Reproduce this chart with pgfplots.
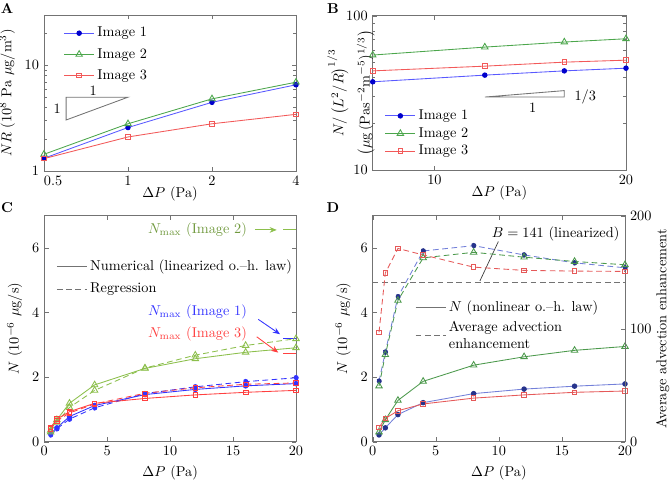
\documentclass[border=0pt]{standalone}
\usepackage{pgfplots}
\pgfplotsset{compat=1.18}
\usetikzlibrary{arrows.meta}

\definecolor{bA}{rgb}{0.35,0.35,1}
\definecolor{bM}{rgb}{0,0,0.8}
\definecolor{gA}{rgb}{0.3,0.65,0.3}
\definecolor{rA}{rgb}{0.95,0.35,0.35}
\definecolor{bC}{rgb}{0.2,0.2,1}
\definecolor{gC}{rgb}{0.55,0.75,0.3}
\definecolor{rC}{rgb}{1,0.25,0.25}
\definecolor{bD}{rgb}{0.45,0.5,0.85}
\definecolor{bDm}{rgb}{0.15,0.2,0.55}
\definecolor{gD}{rgb}{0.3,0.6,0.3}
\definecolor{rD}{rgb}{0.9,0.35,0.35}
\definecolor{frame}{rgb}{0.45,0.45,0.45}

\pgfplotsset{
  panel/.style={
    scale only axis, anchor=south west,
    axis line style={frame}, tick style={frame},
    tick align=inside, major tick length=3pt, minor tick length=1.8pt,
    legend cell align=left,
    legend style={draw=none, fill=none, row sep=1pt},
    legend image code/.code={\draw[mark repeat=2,mark phase=2,##1] plot coordinates {(0cm,0cm) (0.37cm,0cm) (0.74cm,0cm)};},
    every axis plot/.append style={line width=0.6pt},
  },
  dsh/.style={dash pattern=on 4pt off 2.5pt},
  i1/.style={mark=*, mark size=1.6pt},
  i2/.style={mark=triangle, mark size=2.6pt, mark options={solid}},
  i3/.style={mark=square, mark size=1.6pt, mark options={solid}},
}

\begin{document}
\begin{tikzpicture}
\useasboundingbox (0,0) rectangle (469.7pt,337.4pt);

\node[font=\bfseries] at (4.9pt,331.1pt) {A};
\node[font=\bfseries] at (233.1pt,331.1pt) {B};
\node[font=\bfseries] at (4.9pt,191.8pt) {C};
\node[font=\bfseries] at (233.1pt,191.8pt) {D};

% ---------------- A
\begin{axis}[panel, at={(30.8pt,217.7pt)}, width=176.4pt, height=109.2pt,
  xmode=log, ymode=log, xmin=0.5, xmax=4, ymin=1, ymax=30,
  xtick={0.5,1,2,4}, xticklabels={\makebox[0pt][l]{0.5},1,2,4},
  ytick={1,10}, yticklabels={1,10},
  minor ytick={2,3,4,5,6,7,8,9,20,30},
  xlabel={$\Delta P$ (Pa)}, xlabel style={yshift=6pt},
  ylabel={$NR$ ($10^8$ Pa $\mu$g/m$^3$)},
  legend style={at={(axis description cs:0.06,0.96)}, anchor=north west, row sep=2.5pt},
]
\addplot[bA, i1, mark options={fill=bM, draw=bM}] coordinates {(0.5,1.32)(1,2.58)(2,4.47)(4,6.55)};
\addlegendentry{Image 1}
\addplot[gA, i2] coordinates {(0.5,1.44)(1,2.8)(2,4.82)(4,6.93)};
\addlegendentry{Image 2}
\addplot[rA, i3] coordinates {(0.5,1.31)(1,2.1)(2,2.8)(4,3.44)};
\addlegendentry{Image 3}
\draw[frame, line width=0.6pt] (axis cs:0.6,5) -- (axis cs:0.6,3.04) -- (axis cs:1,5) -- cycle;
\node at (axis cs:0.75,5.8) {1};
\node at (axis cs:0.557,3.9) {1};
\end{axis}

% ---------------- B
\begin{axis}[panel, at={(260.9pt,218.4pt)}, width=177.3pt, height=108pt,
  xmode=log, ymode=log, xmin=8, xmax=20, ymin=10, ymax=100,
  xtick={10,20}, xticklabels={10,20},
  ytick={10,100}, yticklabels={10,100},
  minor ytick={20,30,40,50,60,70,80,90},
  xlabel={$\Delta P$ (Pa)}, xlabel style={yshift=6pt},
  ylabel={$N/\left(L^2/R\right)^{1/3}$\\[5pt]$\left(\mu\mathrm{g}\,(\mathrm{Pa s^{-2}m^{-5}})^{1/3}\right)$},
  ylabel style={align=center, at={(axis description cs:-0.086,0.5)}, anchor=center},
  legend style={at={(axis description cs:0.03,0.045)}, anchor=south west, row sep=0pt},
]
\addplot[bA, i1, mark options={fill=bM, draw=bM}] coordinates {(8,37.3)(12,41.2)(16,43.9)(20,45.7)};
\addlegendentry{Image 1}
\addplot[gA, i2] coordinates {(8,55.6)(12,62.6)(16,67.5)(20,70.9)};
\addlegendentry{Image 2}
\addplot[rA, i3] coordinates {(8,43.9)(12,47.1)(16,50.0)(20,51.5)};
\addlegendentry{Image 3}
\draw[frame, line width=0.6pt] (axis cs:12,29.7) -- (axis cs:16,29.7) -- (axis cs:16,32.7) -- cycle;
\node[anchor=west] at (axis cs:16.3,29.9) {$1/3$};
\node at (axis cs:14.27,25.3) {1};
\end{axis}

% ---------------- C
\begin{axis}[panel, at={(31pt,28.2pt)}, width=176.2pt, height=158.2pt,
  xmin=0, xmax=20, ymin=0, ymax=7,
  xtick={0,5,10,15,20}, ytick={0,2,4,6},
  xlabel={$\Delta P$ (Pa)},
  ylabel={$N$ ($10^{-6}$ $\mu$g/s)},
  legend style={at={(axis description cs:0.03,0.83)}, anchor=north west, row sep=3pt},
]
\addlegendimage{frame}
\addlegendentry{Numerical (linearized o.--h. law)}
\addlegendimage{frame, dsh}
\addlegendentry{Regression}
\addplot[bC, i1, mark options={fill=bC}, forget plot] coordinates {(0.5,0.25)(1,0.43)(2,0.78)(4,1.12)(8,1.46)(12,1.62)(16,1.73)(20,1.8)};
\addplot[bC, dsh, i1, mark options={fill=bC}, forget plot] coordinates {(0.5,0.21)(1,0.40)(2,0.70)(4,1.05)(8,1.49)(12,1.70)(16,1.86)(20,1.98)};
\addplot[gC, i2, forget plot] coordinates {(0.5,0.35)(1,0.68)(2,1.19)(4,1.76)(8,2.27)(12,2.57)(16,2.77)(20,2.91)};
\addplot[gC, dsh, i2, forget plot] coordinates {(0.5,0.3)(1,0.6)(2,1.06)(4,1.59)(8,2.28)(12,2.68)(16,2.98)(20,3.19)};
\addplot[rC, i3, forget plot] coordinates {(0.5,0.44)(1,0.70)(2,0.93)(4,1.19)(8,1.34)(12,1.45)(16,1.53)(20,1.59)};
\addplot[rC, dsh, i3, forget plot] coordinates {(0.5,0.40)(1,0.64)(2,0.89)(4,1.17)(8,1.50)(12,1.67)(16,1.78)(20,1.82)};
% N_max levels
\addplot[gC, forget plot] coordinates {(19,6.56)(20,6.56)};
\addplot[bC, forget plot] coordinates {(19,3.19)(20,3.19)};
\addplot[rC, forget plot] coordinates {(19,2.72)(20,2.72)};
\node[anchor=east, text=gC!80!black] at (axis cs:16.5,6.56) {$N_{\max}$ (Image 2)};
\node[anchor=east, text=bC] at (axis cs:16.5,4.03) {$N_{\max}$ (Image 1)};
\node[anchor=east, text=rC] at (axis cs:16.5,3.34) {$N_{\max}$ (Image 3)};
\draw[-{Stealth[length=5pt,width=4pt]}, gC, line width=0.6pt] (axis cs:16.74,6.56) -- (axis cs:18.47,6.56);
\draw[-{Stealth[length=5pt,width=4pt]}, bC, line width=0.6pt] (axis cs:17.0,3.79) -- (axis cs:18.73,3.33);
\draw[-{Stealth[length=5pt,width=4pt]}, rC, line width=0.6pt] (axis cs:16.88,3.25) -- (axis cs:18.59,2.76);
\end{axis}

% ---------------- D (left)
\begin{axis}[panel, at={(260.9pt,28.2pt)}, width=176.6pt, height=158.2pt,
  xmin=0, xmax=20, ymin=0, ymax=7,
  xtick={0,5,10,15,20}, ytick={0,2,4,6}, ytick pos=left,
  xlabel={$\Delta P$ (Pa)},
  ylabel={$N$ ($10^{-6}$ $\mu$g/s)},
  legend style={at={(axis description cs:0.15,0.65)}, anchor=north west, row sep=1pt, cells={align=left}},
]
\addlegendimage{frame}
\addlegendentry{$N$ (nonlinear o.--h. law)}
\addlegendimage{frame, dsh}
\addlegendentry{Average advection\\enhancement}
\addplot[bD, i1, mark options={fill=bDm, draw=bDm}, forget plot] coordinates {(0.5,0.21)(1,0.43)(2,0.84)(4,1.21)(8,1.49)(12,1.63)(16,1.72)(20,1.79)};
\addplot[gD, i2, forget plot] coordinates {(0.5,0.3)(1,0.68)(2,1.28)(4,1.87)(8,2.37)(12,2.63)(16,2.83)(20,2.95)};
\addplot[rD, i3, forget plot] coordinates {(0.5,0.44)(1,0.72)(2,0.96)(4,1.17)(8,1.35)(12,1.45)(16,1.53)(20,1.57)};
\node[anchor=east] at (axis cs:19.95,6.43) {$B=141$ (linearized)};
\draw[black!75, line width=0.5pt] (axis cs:9.96,6.2) -- (axis cs:8.5,4.98);
\end{axis}

% ---------------- D (right)
\begin{axis}[panel, at={(260.9pt,28.2pt)}, width=176.6pt, height=158.2pt,
  xmin=0, xmax=20, ymin=0, ymax=200,
  axis x line=none, axis y line*=right,
  ytick={0,100,200},
  ylabel={Average advection enhancement},
  ylabel style={at={(axis description cs:1.15,0.5)}, anchor=center},
]
\addplot[frame, dsh] coordinates {(0,141)(20,141)};
\addplot[bD, dsh, i1, mark options={fill=bDm, draw=bDm}] coordinates {(0.5,53.6)(1,79.3)(2,128.3)(4,168.8)(8,173.5)(12,165.3)(16,158.3)(20,153.9)};
\addplot[gD, dsh, i2] coordinates {(0.5,49.3)(1,77)(2,125)(4,162.7)(8,167.6)(12,163.3)(16,159.5)(20,156.6)};
\addplot[rD, dsh, i3] coordinates {(0.5,96.8)(1,149.3)(2,171)(4,165.3)(8,154.5)(12,151.6)(16,151)(20,150.7)};
\end{axis}
\end{tikzpicture}
\end{document}
